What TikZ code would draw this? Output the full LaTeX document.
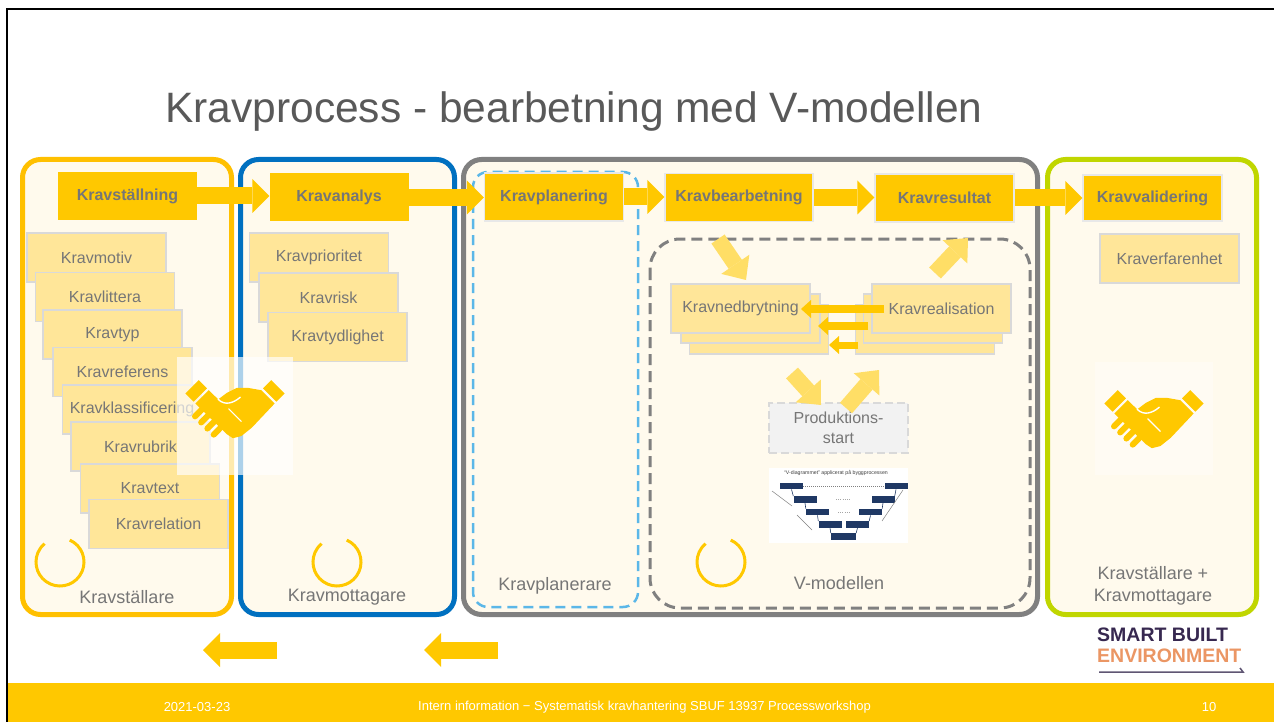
\documentclass[tikz,border=0pt]{standalone}
\usepackage{fontspec}
\setmainfont{Liberation Sans}
\usetikzlibrary{arrows.meta,calc}

\definecolor{hdrfill}{RGB}{255,200,0}
\definecolor{subfill}{RGB}{255,230,153}
\definecolor{subedge}{RGB}{217,217,217}
\definecolor{hdredge}{RGB}{232,232,232}
\definecolor{lanefill}{RGB}{255,250,237}
\definecolor{hdrtext}{RGB}{118,118,118}
\definecolor{txt}{RGB}{118,118,118}
\definecolor{titlegray}{RGB}{89,89,89}
\definecolor{lightarr}{RGB}{255,222,102}
\definecolor{laneorange}{RGB}{255,192,0}
\definecolor{laneblue}{RGB}{0,112,192}
\definecolor{lanegray}{RGB}{128,128,128}
\definecolor{lanegreen}{RGB}{192,214,0}
\definecolor{dashblue}{RGB}{91,183,232}
\definecolor{prodfill}{RGB}{242,242,242}
\definecolor{prodedge}{RGB}{217,217,217}
\definecolor{navy}{RGB}{31,56,100}
\definecolor{logopurple}{RGB}{55,40,80}
\definecolor{logoorange}{RGB}{235,150,100}
\definecolor{logoline}{RGB}{95,85,115}

% handshake icon, drawn around its own centre (y grows downwards)
\tikzset{handshake/.pic={
  % sleeves
  \fill[hdrfill] (-26.75,-23.47) -- (-34.53,-31.25) -- (-47.25,-18.53) -- (-39.47,-10.75) -- cycle;
  \fill[hdrfill] (26.75,-23.47) -- (34.53,-31.25) -- (47.25,-18.53) -- (39.47,-10.75) -- cycle;
  % joined hands
  \fill[hdrfill] (-25,-21.7) -- (-16,-13) -- (-8,-19) -- (2,-24) -- (12,-24) -- (25,-21.7)
     -- (37.7,-9) -- (16,14) -- (6,22) -- (-2,24) -- (-8,20) -- (-37.7,-9) -- cycle;
  % curled fingers
  \foreach \a/\b in {-31.8/-3.2,-25.9/2.6,-20/8.4,-14/14.2}
    \draw[hdrfill, line width=6pt, line cap=round] (\a+2.1,\b-2.1) -- ++(-8.4,8.5);
  % thumb outline
  \draw[white, line width=1.4pt, line cap=round] (-16,-13) .. controls (-10,-7) and (-2,-9) .. (5,-15);
  \draw[white, line width=1.2pt, line cap=round] (-6,-4) -- (6,8);
}}

\begin{document}
\begin{tikzpicture}[x=1pt,y=-1pt,
  lane/.style={rounded corners=18pt, line width=5pt, fill=lanefill},
  hdr/.style={fill=hdrfill, text=hdrtext, font=\bfseries\fontsize{16}{19}\selectfont,
              minimum width=139pt, minimum height=48pt, inner sep=0pt},
  hdrline/.style={hdr, draw=hdredge, line width=1.2pt},
  sub/.style={draw=subedge, line width=1.2pt, fill=subfill, text=txt,
              font=\fontsize{16}{19}\selectfont, minimum width=139pt, minimum height=49pt, inner sep=0pt},
  blk/.style={draw=hdrfill, line width=17pt, -{Triangle[width=34pt,length=17pt,line width=0pt]}},
  fatarr/.style={draw=lightarr, line width=16pt, -{Triangle[width=34pt,length=19pt,line width=0pt]}},
  slimarr/.style={draw=hdrfill, line width=8pt, -{Triangle[width=18pt,length=10pt,line width=0pt]}},
  role/.style={text=txt, font=\fontsize{18}{22}\selectfont, align=center},
  cyc/.style={draw=hdrfill, line width=3pt},
  vbox/.style={fill=navy, minimum width=23pt, minimum height=6.5pt, inner sep=0pt},
  vlink/.style={draw=navy, line width=0.6pt},
  foot/.style={text=white, font=\fontsize{13}{15}\selectfont}
]
\useasboundingbox (0,0) rectangle (1274,722);
\fill[white] (0,0) rectangle (1274,722);

% title
\node[anchor=base, text=titlegray, font=\fontsize{42.5}{50}\selectfont] (title) at (574,123)
  {Kravprocess - bearbetning med V-modellen};

% swim lanes
\draw[lane, draw=laneorange] (22.5,159.5) rectangle (231.5,614.5);
\draw[lane, draw=laneblue]   (240.5,159.5) rectangle (454.5,614.5);
\draw[lane, draw=lanegray]   (463.5,159.5) rectangle (1037.5,614.5);
\draw[lane, draw=lanegreen]  (1047.5,159.5) rectangle (1256.5,614.5);

% inner dashed groups
\draw[draw=dashblue, line width=2.5pt, dash pattern=on 10pt off 6pt, rounded corners=15pt]
  (473,172) rectangle (638,607);
\draw[draw=lanegray, line width=3pt, dash pattern=on 11pt off 6pt, rounded corners=30pt]
  (650,239) rectangle (1030,608);

% requirement attributes, Kravställare
\node[sub] (motiv)   at (96.5,257.5) {Kravmotiv};
\node[sub] (litt)    at (105,297)    {Kravlittera};
\node[sub] (typ)     at (112.5,334.5){Kravtyp};
\node[sub] (ref)     at (122.5,372)  {Kravreferens};
\node[sub] (klass)   at (132,409.5)  {Kravklassificering};
\node[sub] (rubrik)  at (140.5,446.5){Kravrubrik};
\node[sub] (text)    at (150,488.5)  {Kravtext};
\node[sub] (rel)     at (158.5,524)  {Kravrelation};

% requirement attributes, Kravmottagare
\node[sub] (prio)    at (319,257.5)  {Kravprioritet};
\node[sub] (risk)    at (328.5,297.5){Kravrisk};
\node[sub] (tydl)    at (337.5,337)  {Kravtydlighet};

% validation attribute
\node[sub] (erf)     at (1169.5,258.5) {Kraverfarenhet};

% V-model stacks
\node[sub] (nb3) at (759,329.5) {};
\node[sub] (nb2) at (750.5,318.5) {};
\node[sub] (nb)  at (740.5,308.5) {Kravnedbrytning};
\node[sub] (nr3) at (925,329.5) {};
\node[sub] (nr2) at (933,318.5) {};
\node[sub] (nr)  at (941.5,308.5) {Kravrealisation};

% feedback arrows between the stacks
\coordinate (f1s) at (884,309); \coordinate (f1e) at (801,309);
\coordinate (f2s) at (868,326); \coordinate (f2e) at (818,326);
\coordinate (f3s) at (858,345); \coordinate (f3e) at (829,345);
\draw[slimarr] (f1s) -- (f1e);
\draw[slimarr] (f2s) -- (f2e);
\draw[slimarr, line width=7pt] (f3s) -- (f3e);

% production start
\node[draw=prodedge, line width=2.5pt, dash pattern=on 8pt off 4pt, fill=prodfill, text=txt,
      font=\fontsize{16}{20}\selectfont, align=center, minimum width=139pt, minimum height=50pt,
      inner sep=0pt] (prod) at (838.5,428) {Produktions-\\start};

% flow arrows inside the V-model
\coordinate (d1s) at (718,239); \coordinate (d1e) at (746,280);
\coordinate (u1s) at (935,273); \coordinate (u1e) at (968,238);
\coordinate (d2s) at (792,373); \coordinate (d2e) at (821,405);
\coordinate (u2s) at (846,408); \coordinate (u2e) at (879,370);
\draw[fatarr] (d1s) -- (d1e);
\draw[fatarr] (u1s) -- (u1e);
\draw[fatarr] (d2s) -- (d2e);
\draw[fatarr] (u2s) -- (u2e);

% V-diagram thumbnail
\node[fill=white, minimum width=139pt, minimum height=75pt, inner sep=0pt] (vthumb) at (838.5,505.5) {};
\node[font=\fontsize{5.2}{6}\selectfont, text=darkgray, inner sep=0pt] (vtitle) at (836,473)
  {“V-diagrammet” applicerat på byggprocessen};
\node[vbox] (v1l) at (791.5,486) {};
\node[vbox] (v1r) at (896,486) {};
\node[vbox] (v2l) at (805,499.5) {};
\node[vbox] (v2r) at (883,499.5) {};
\node[vbox] (v3l) at (817.5,512) {};
\node[vbox] (v3r) at (870.5,512) {};
\node[vbox] (v4l) at (830,524.5) {};
\node[vbox] (v4r) at (857.5,524.5) {};
\node[vbox, minimum width=25pt] (vb) at (843.5,536.5) {};
\draw[gray, line width=0.5pt, dash pattern=on 1pt off 1pt] (v1l.east) -- (v1r.west);
\draw[gray!70, line width=0.6pt, dash pattern=on 1pt off 1.2pt] (836,499.5) -- (850,499.5);
\draw[gray!70, line width=0.6pt, dash pattern=on 1pt off 1.2pt] (838,512) -- (850,512);
\draw[vlink] (v1l.south) -- (v2l.north west);
\draw[vlink] (v2l.south) -- (v3l.north west);
\draw[vlink] (v3l.south) -- (v4l.north west);
\draw[vlink] (v4l.south) -- (vb.north west);
\draw[vlink] (vb.north east) -- (v4r.south);
\draw[vlink] (v4r.north east) -- (v3r.south);
\draw[vlink] (v3r.north east) -- (v2r.south);
\draw[vlink] (v2r.north east) -- (v1r.south);
\draw[gray, line width=0.5pt] (772,491) -- (792,506);
\draw[gray, line width=0.5pt] (797,515) -- (812,530);
\draw[gray, line width=0.5pt] (903,490) -- (882,521);

% process steps
\node[hdr]     (hs) at (127.5,196)  {Kravställning};
\node[hdr]     (ha) at (339,197.5)  {Kravanalys};
\node[hdrline] (hp) at (554,197)    {Kravplanering};
\node[hdrline, minimum width=148pt] (hb) at (739,197.5) {Kravbearbetning};
\node[hdrline] (hr) at (944.5,198)  {Kravresultat};
\node[hdrline, minimum height=46pt] (hv) at (1152.5,198) {Kravvalidering};

\draw[blk] (hs.east) -- (hs.east -| ha.west);
\draw[blk] (ha.east) -- (ha.east -| hp.west);
\draw[blk] (hp.east) -- (hp.east -| hb.west);
\draw[blk] (hb.east) -- (hb.east -| hr.west);
\draw[blk] (hr.east) -- (hr.east -| hv.west);

% handshakes
\fill[white, opacity=0.68] (177,357) rectangle (293,475);
\pic[scale=1.05] at (235,413) {handshake};
\fill[white, opacity=0.35] (1095,362) rectangle (1213,475);
\pic[scale=1.05] at (1154,423) {handshake};

% cycle marks
\draw[cyc] (60,562)  ++(-66:24) arc[start angle=-66, end angle=230, radius=24];
\draw[cyc] (337,562) ++(-66:24) arc[start angle=-66, end angle=230, radius=24];
\draw[cyc] (721,562) ++(-66:24) arc[start angle=-66, end angle=230, radius=24];

% role labels
\node[role] (r1) at (127,597) {Kravställare};
\node[role] (r2) at (347,597) {Kravmottagare};
\node[role] (r3) at (555,586) {Kravplanerare};
\node[role] (r4) at (839,583) {V-modellen};
\node[role] (r5) at (1153,586) {Kravställare +\\Kravmottagare};

% return arrows below the lanes
\coordinate (b1s) at (277,650); \coordinate (b1e) at (203,650);
\coordinate (b2s) at (498,650); \coordinate (b2e) at (424,650);
\draw[blk] (b1s) -- (b1e);
\draw[blk] (b2s) -- (b2e);

% logo
\node[anchor=west, inner sep=0pt, text=logopurple, font=\bfseries\fontsize{19.5}{22}\selectfont] (logo1) at (1097,635) {SMART BUILT};
\node[anchor=west, inner sep=0pt, text=logoorange, font=\bfseries\fontsize{19.5}{22}\selectfont] (logo2) at (1097,656) {ENVIRONMENT};
\coordinate (lu1) at (1099,672); \coordinate (lu2) at (1243,672);
\draw[logoline, line width=1.5pt] (lu1) -- (lu2) -- ++(-3,-4);

% footer
\fill[hdrfill] (8,683) rectangle (1274,722);
\node[foot] (fdate) at (197,707) {2021-03-23};
\node[foot] (finfo) at (644.5,707) {Intern information − Systematisk kravhantering SBUF 13937 Processworkshop};
\node[foot] (fpage) at (1209,707) {10};

% slide frame
\draw[black, line width=2.5pt] (7,722) -- (7,9) -- (1274,9);
\end{tikzpicture}
\end{document}
